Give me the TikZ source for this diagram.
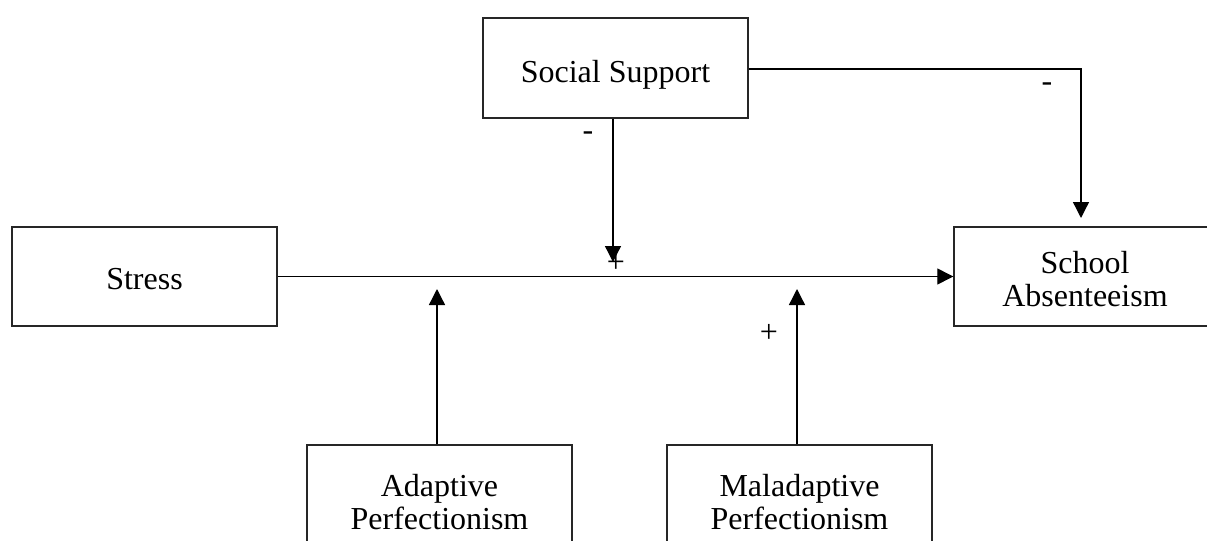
\documentclass[tikz,border=0pt]{standalone}
\usepackage{fontspec}
\setmainfont{Liberation Serif}
\usetikzlibrary{arrows.meta}
\tikzset{
  box/.style={draw=black!85, line width=0.7pt, fill=none, inner sep=0pt},
  lbl/.style={align=center, inner sep=0pt, font=\fontsize{16}{16.5}\selectfont},
  conn/.style={line width=0.65pt, draw=black},
  arr/.style={conn, -{Triangle[width=8pt,length=8pt]}},
  sign/.style={font=\fontsize{16}{17}\selectfont, inner sep=0pt}
}
\begin{document}
\begin{tikzpicture}[x=0.5pt,y=-0.5pt]
\useasboundingbox (0,0) rectangle (1207,541);
\clip (0,0) rectangle (1207,541);
\node[box, minimum width=132.5pt, minimum height=50pt] (social) at (615.5,68) {};
\node[box, minimum width=132.5pt, minimum height=49.5pt] (stress) at (144.5,276.5) {};
\node[box, minimum width=131pt, minimum height=49.5pt] (school) at (1085,276.5) {};
\node[box, minimum width=132.5pt, minimum height=50pt] (adaptive) at (439.5,495) {};
\node[box, minimum width=132.5pt, minimum height=50pt] (maladaptive) at (799.5,495) {};
\node[lbl] (socialt) at ([yshift=-3.3pt]social.center) {Social Support};
\node[lbl] (stresst) at ([yshift=-1.2pt]stress.center) {Stress};
\node[lbl] (schoolt) at ([yshift=-1.5pt]school.center) {School\\Absenteeism};
\node[lbl] (adaptivet) at ([yshift=-3.3pt]adaptive.center) {Adaptive\\Perfectionism};
\node[lbl] (maladaptivet) at ([yshift=-3.3pt]maladaptive.center) {Maladaptive\\Perfectionism};
% main path
\draw[arr] (stress.east) -- (school.west);
% moderator targets
\coordinate (t1) at (613,262);
\coordinate (t2) at (437,289);
\coordinate (t3) at (797,289);
\coordinate (bend) at (1081,69);
\coordinate (t4) at (1081,218);
\draw[arr] (social.south -| t1) -- (t1);
\draw[arr] (adaptive.north -| t2) -- (t2);
\draw[arr] (maladaptive.north -| t3) -- (t3);
\draw[arr] (social.east |- bend) -- (bend) -- (t4);
% signs
\node[sign] (s1) at (588,136) {-};
\node[sign] (s2) at (616,263) {+};
\node[sign] (s3) at (769,333) {+};
\node[sign] (s4) at (1047,87) {-};
\end{tikzpicture}
\end{document}
